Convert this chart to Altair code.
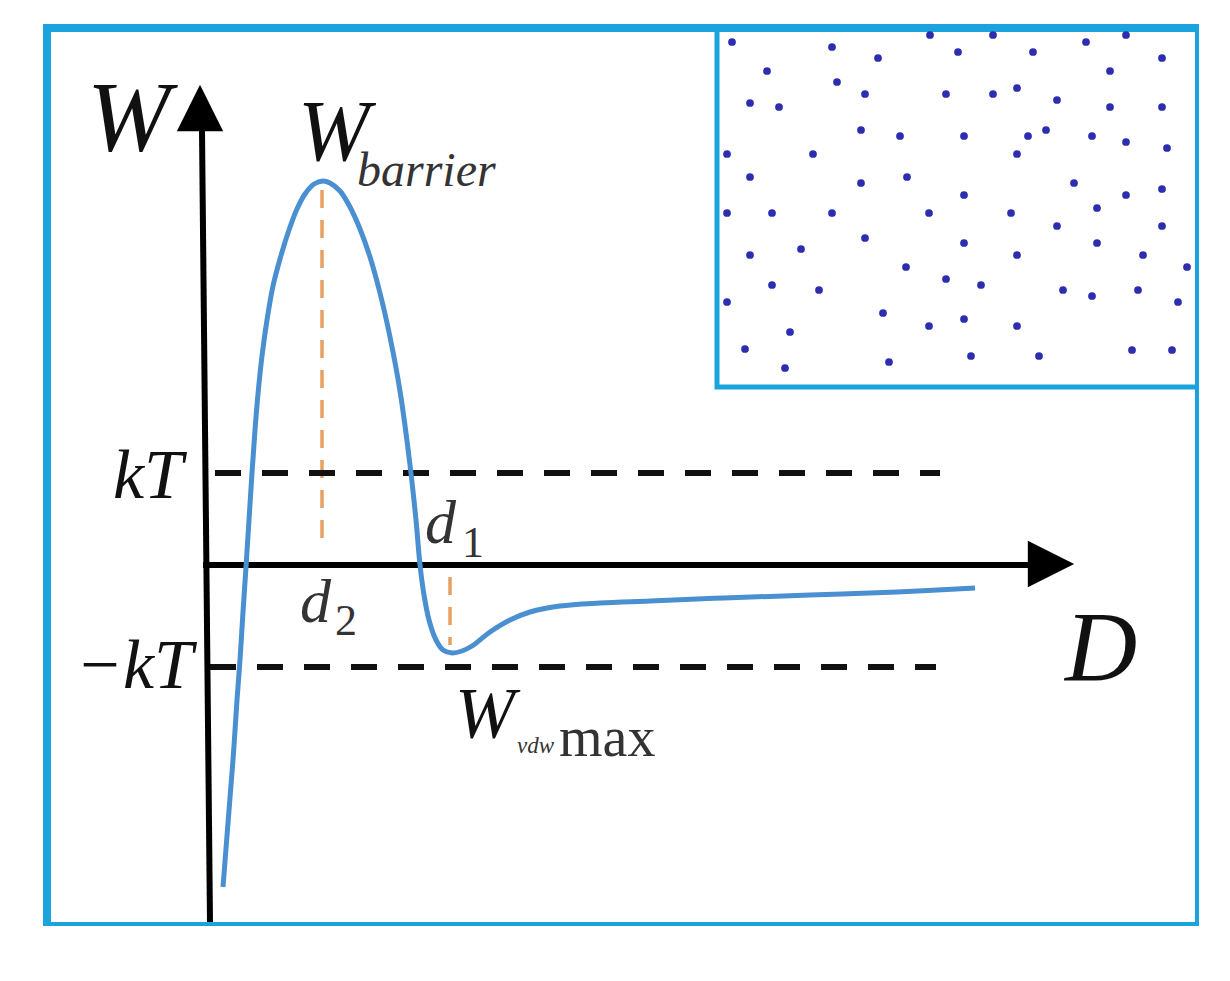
import altair as alt
import pandas as pd

# ---------------- data ----------------
# interaction energy curve W(D)
curve_D = [0.14, 0.19, 0.24, 0.28, 0.31, 0.34, 0.37, 0.40, 0.43, 0.46, 0.49, 0.53, 0.58, 0.64,
           0.71, 0.80, 0.88, 0.96, 1.05, 1.14, 1.21, 1.31, 1.41, 1.51, 1.61, 1.71, 1.81, 1.91,
           2.01, 2.07, 2.11, 2.15, 2.20, 2.27, 2.34, 2.43, 2.53, 2.63, 2.81, 3.01, 3.21, 3.51,
           3.91, 4.41, 5.15, 6.01, 6.88, 7.66]
curve_W = [-3.22, -2.58, -1.95, -1.35, -0.95, -0.47, -0.02, 0.45, 0.92, 1.35, 1.71, 2.09, 2.45,
           2.79, 3.06, 3.35, 3.56, 3.71, 3.81, 3.84, 3.82, 3.74, 3.58, 3.36, 3.08, 2.72, 2.28,
           1.74, 1.00, 0.45, 0.00, -0.30, -0.55, -0.75, -0.85, -0.88, -0.86, -0.81, -0.67,
           -0.55, -0.47, -0.41, -0.38, -0.36, -0.33, -0.30, -0.27, -0.23]

# reference levels
kT_level = 0.92
neg_kT_level = -1.02
level_D_start = [0.06, 0.01]
level_D_end = [7.31, 7.27]

# special points
d2_D, d2_top, d2_bottom = 1.13, 3.75, 0.15
d1_D, d1_top, d1_bottom = 2.41, -0.12, -0.80

# axes (D axis and W axis)
axis_D_start, axis_D_end = -0.06, 8.25
waxis_D_top, waxis_D_bottom = -0.07, 0.01
waxis_W_top, waxis_W_bottom = 4.34, -3.57
arrow_W = (-0.09, 4.57)
arrow_D = (8.42, 0.01)

# inset box and its particles
inset_D = (5.08, 9.90)
inset_W = (1.78, 5.37)
dots_x = [5.23, 6.23, 6.69, 7.21, 7.84, 7.49, 8.24, 8.77, 9.17, 9.53, 5.58, 6.28, 9.01, 5.41,
          5.70, 6.56, 7.37, 7.84, 8.08, 8.48, 9.01, 9.53, 6.52, 6.91, 7.55, 8.19, 8.37, 8.83,
          9.17, 9.58, 5.18, 6.04, 8.08, 5.41, 6.52, 6.98, 7.55, 8.65, 9.17, 9.53, 8.88, 5.18,
          5.63, 6.23, 7.20, 8.02, 8.48, 9.53, 6.56, 7.55, 8.88, 5.41, 5.92, 8.08, 9.34, 6.97,
          9.78, 5.63, 6.10, 7.37, 7.72, 8.54, 8.83, 9.29, 5.18, 9.69, 6.74, 7.20, 7.55, 8.08,
          5.81, 5.36, 5.76, 6.80, 7.62, 8.30, 9.23, 9.63]
dots_y = [5.23, 5.18, 5.07, 5.30, 5.30, 5.13, 5.13, 5.23, 5.30, 5.07, 4.94, 4.83, 4.94, 4.62,
          4.58, 4.71, 4.71, 4.71, 4.77, 4.65, 4.58, 4.58, 4.35, 4.29, 4.29, 4.29, 4.35, 4.29,
          4.23, 4.17, 4.11, 4.11, 4.11, 3.88, 3.82, 3.88, 3.70, 3.82, 3.70, 3.76, 3.57, 3.52,
          3.52, 3.52, 3.52, 3.52, 3.39, 3.39, 3.27, 3.22, 3.22, 3.10, 3.16, 3.10, 3.10, 2.98,
          2.98, 2.80, 2.75, 2.86, 2.80, 2.75, 2.69, 2.75, 2.63, 2.63, 2.52, 2.39, 2.46, 2.39,
          2.33, 2.16, 1.97, 2.03, 2.09, 2.09, 2.15, 2.15]

# ---------------- chart ----------------
XS = alt.Scale(domain=[-1.62, 9.90], nice=False, zero=False)
YS = alt.Scale(domain=[-3.61, 5.37], nice=False, zero=False)
BLACK = "#111111"
GREY = "#333333"
FRAME = "#1aa3dd"
SERIF = "Liberation Serif"


def X(field="x"):
    return alt.X(f"{field}:Q", scale=XS, axis=None)


def Y(field="y"):
    return alt.Y(f"{field}:Q", scale=YS, axis=None)


layers = []

# orange dashed guides
orange = pd.DataFrame({"x": [d2_D, d1_D], "y": [d2_top, d1_top], "y2": [d2_bottom, d1_bottom]})
layers.append(alt.Chart(orange).mark_rule(color="#e8a062", strokeWidth=3.5, strokeDash=[18, 12])
              .encode(x=X(), y=Y(), y2="y2:Q"))

# kT levels
levels = pd.DataFrame({"x": level_D_start, "x2": level_D_end, "y": [kT_level, neg_kT_level]})
layers.append(alt.Chart(levels).mark_rule(color=BLACK, strokeWidth=6, strokeDash=[26, 21])
              .encode(x=X(), x2="x2:Q", y=Y()))

# D axis
daxis = pd.DataFrame({"x": [axis_D_start], "x2": [axis_D_end], "y": [0.0]})
layers.append(alt.Chart(daxis).mark_rule(color="#000000", strokeWidth=6)
              .encode(x=X(), x2="x2:Q", y=Y()))
# W axis (slightly tilted)
waxis = pd.DataFrame({"x": [waxis_D_top], "x2": [waxis_D_bottom], "y": [waxis_W_top], "y2": [waxis_W_bottom]})
layers.append(alt.Chart(waxis).mark_rule(color="#000000", strokeWidth=6)
              .encode(x=X(), x2="x2:Q", y=Y(), y2="y2:Q"))

# arrow heads
aw = pd.DataFrame({"x": [arrow_W[0]], "y": [arrow_W[1]]})
layers.append(alt.Chart(aw).mark_point(shape="M0,-1L1,1L-1,1Z", size=2150, filled=True,
                                       color="#000000", opacity=1)
              .encode(x=X(), y=Y()))
ad = pd.DataFrame({"x": [arrow_D[0]], "y": [arrow_D[1]]})
layers.append(alt.Chart(ad).mark_point(shape="M1,0L-1,-1L-1,1Z", size=2150, filled=True,
                                       color="#000000", opacity=1)
              .encode(x=X(), y=Y()))

# curve
curve = pd.DataFrame({"x": curve_D, "y": curve_W})
layers.append(alt.Chart(curve).mark_line(color="#4a8fd0", strokeWidth=5, interpolate="catmull-rom")
              .encode(x=X(), y=Y()))


def label(text, x, y, size, italic=True, align="left", color=BLACK):
    df = pd.DataFrame({"x": [x], "y": [y], "t": [text]})
    return alt.Chart(df).mark_text(font=SERIF, fontSize=size,
                                   fontStyle="italic" if italic else "normal",
                                   align=align, baseline="alphabetic", color=color
                                   ).encode(x=X(), y=Y(), text="t:N")


layers += [
    label("W", -1.22, 4.15, 100),
    label("W", 0.89, 4.05, 86),
    label("barrier", 1.48, 3.79, 48, color=GREY),
    label("kT", -0.26, 0.67, 70, align="right"),
    label("\u2212kT", -0.16, -1.23, 70, align="right"),
    label("d", 2.16, 0.22, 62, color=GREY),
    label("1", 2.53, 0.08, 44, italic=False, color=GREY),
    label("d", 0.91, -0.57, 62, color=GREY),
    label("2", 1.26, -0.70, 44, italic=False, color=GREY),
    label("D", 8.56, -1.15, 100),
    label("W", 2.46, -1.72, 72),
    label("vdw", 3.08, -1.88, 23, color=GREY),
    label("max", 3.50, -1.91, 56, italic=False, color=GREY),
]

# inset box
inset = pd.DataFrame({"x": [inset_D[0]], "x2": [inset_D[1]], "y": [inset_W[0]], "y2": [inset_W[1]]})
layers.append(alt.Chart(inset).mark_rect(fillOpacity=0, stroke=FRAME, strokeWidth=5)
              .encode(x=X(), x2="x2:Q", y=Y(), y2="y2:Q"))

dots = pd.DataFrame({"x": dots_x, "y": dots_y})
layers.append(alt.Chart(dots).mark_circle(size=60, color="#2d2db0", opacity=1)
              .encode(x=X(), y=Y()))

chart = alt.layer(*layers).properties(
    width=1152, height=898,
    autosize=alt.AutoSizeParams(type="none"),
    padding={"left": 39, "top": 20, "right": 0, "bottom": 0},
    background="white",
).configure_view(stroke=FRAME, strokeWidth=8)

chart.save("out.html", embed_options={"renderer": "svg", "actions": False})
